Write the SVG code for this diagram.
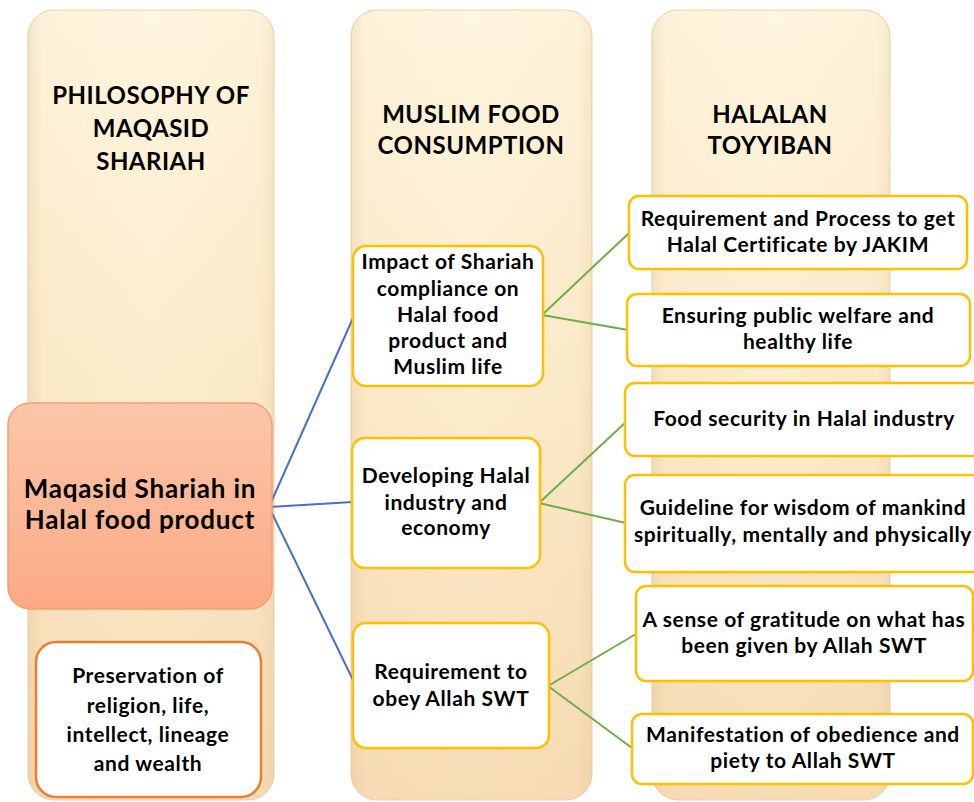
<svg xmlns="http://www.w3.org/2000/svg" width="974" height="802" viewBox="0 0 974 802">
<defs>
<linearGradient id="colV" x1="0" y1="0" x2="0" y2="1">
<stop offset="0" stop-color="#FFF6DF"/>
<stop offset="0.5" stop-color="#FCEBCB"/>
<stop offset="1" stop-color="#F7DDB6"/>
</linearGradient>
<linearGradient id="colH" x1="0" y1="0" x2="1" y2="0">
<stop offset="0" stop-color="#C89A5A" stop-opacity="0.18"/>
<stop offset="0.06" stop-color="#C89A5A" stop-opacity="0.04"/>
<stop offset="0.5" stop-color="#C89A5A" stop-opacity="0"/>
<stop offset="0.94" stop-color="#C89A5A" stop-opacity="0.04"/>
<stop offset="1" stop-color="#C89A5A" stop-opacity="0.15"/>
</linearGradient>
<linearGradient id="orangeG" x1="0" y1="0" x2="0" y2="1">
<stop offset="0" stop-color="#FCC6AA"/>
<stop offset="1" stop-color="#FBAA84"/>
</linearGradient>
</defs>
<style>
.col{fill:url(#colV);stroke:#E9D2AE;stroke-width:1}
.colS{fill:url(#colH);stroke:none}
.box{fill:#FFFFFF;stroke:#FFC000;stroke-width:2.5}
.obox{fill:#FFFFFF;stroke:#ED7D31;stroke-width:2.5}
.main{fill:url(#orangeG);stroke:#F4A06A;stroke-width:1.5}
text{font-family:Lato,"Liberation Sans",Arial,sans-serif;font-weight:bold;fill:#000000;text-anchor:middle}
.t{font-size:21px;letter-spacing:0.6px}
.h{font-size:24px;letter-spacing:0.5px}
.m{font-size:26px;letter-spacing:0.8px}
.blue{stroke:#4472C4;stroke-width:2;fill:none}
.green{stroke:#70AD47;stroke-width:2;fill:none}
</style>

<g id="col-philosophy">
<rect class="col" x="28" y="10" width="246" height="790" rx="26"/>
<rect class="colS" x="28" y="10" width="246" height="790" rx="26"/>
<text class="h" x="151" y="104">PHILOSOPHY OF</text>
<text class="h" x="151" y="137">MAQASID</text>
<text class="h" x="151" y="170">SHARIAH</text>
</g>
<g id="col-consumption">
<rect class="col" x="351" y="10" width="241" height="790" rx="26"/>
<rect class="colS" x="351" y="10" width="241" height="790" rx="26"/>
<text class="h" x="471" y="123">MUSLIM FOOD</text>
<text class="h" x="471" y="154">CONSUMPTION</text>
</g>
<g id="col-halalan">
<rect class="col" x="652" y="10" width="238" height="790" rx="26"/>
<rect class="colS" x="652" y="10" width="238" height="790" rx="26"/>
<text class="h" x="770" y="123">HALALAN</text>
<text class="h" x="770" y="154">TOYYIBAN</text>
</g>

<g id="connectors">
<line class="blue" x1="269" y1="507" x2="353" y2="318"/>
<line class="blue" x1="269" y1="507" x2="353" y2="502"/>
<line class="blue" x1="269" y1="507" x2="353" y2="680"/>
<line class="green" x1="542" y1="315" x2="629" y2="233"/>
<line class="green" x1="542" y1="315" x2="628" y2="330"/>
<line class="green" x1="539" y1="503" x2="626" y2="422"/>
<line class="green" x1="539" y1="503" x2="626" y2="523"/>
<line class="green" x1="548" y1="686" x2="636" y2="634"/>
<line class="green" x1="548" y1="686" x2="632" y2="748"/>
</g>

<g id="node-maqasid">
<rect class="main" x="8" y="403" width="264" height="206" rx="22"/>
<text class="m" x="140" y="498">Maqasid Shariah in</text>
<text class="m" x="140" y="529">Halal food product</text>
</g>
<g id="node-preservation">
<rect class="obox" x="36" y="642" width="225" height="155" rx="20"/>
<text class="t" x="148" y="683">Preservation of</text>
<text class="t" x="148" y="713">religion, life,</text>
<text class="t" x="148" y="742">intellect, lineage</text>
<text class="t" x="148" y="771">and wealth</text>
</g>
<g id="node-impact">
<rect class="box" x="353" y="246" width="190" height="140" rx="13"/>
<text class="t" x="448" y="269">Impact of Shariah</text>
<text class="t" x="448" y="296">compliance on</text>
<text class="t" x="448" y="322">Halal food</text>
<text class="t" x="448" y="348">product and</text>
<text class="t" x="448" y="374">Muslim life</text>
</g>
<g id="node-developing">
<rect class="box" x="352" y="438" width="188" height="130" rx="13"/>
<text class="t" x="446" y="483">Developing Halal</text>
<text class="t" x="446" y="510">industry and</text>
<text class="t" x="446" y="535">economy</text>
</g>
<g id="node-requirement">
<rect class="box" x="353" y="623" width="196" height="125" rx="13"/>
<text class="t" x="451" y="679">Requirement to</text>
<text class="t" x="451" y="706">obey Allah SWT</text>
</g>
<g id="node-jakim">
<rect class="box" x="629" y="196" width="338" height="73" rx="10"/>
<text class="t" x="798" y="226">Requirement and Process to get</text>
<text class="t" x="798" y="252">Halal Certificate by JAKIM</text>
</g>
<g id="node-welfare">
<rect class="box" x="627" y="294" width="343" height="72" rx="10"/>
<text class="t" x="798" y="323">Ensuring public welfare and</text>
<text class="t" x="798" y="349">healthy life</text>
</g>
<g id="node-security">
<rect class="box" x="625" y="383" width="360" height="73" rx="10"/>
<text class="t" x="804" y="426">Food security in Halal industry</text>
</g>
<g id="node-guideline">
<rect class="box" x="625" y="475" width="360" height="97" rx="10"/>
<text class="t" x="803" y="515">Guideline for wisdom of mankind</text>
<text class="t" x="803" y="542">spiritually, mentally and physically</text>
</g>
<g id="node-gratitude">
<rect class="box" x="636" y="586" width="337" height="95" rx="10"/>
<text class="t" x="804" y="627">A sense of gratitude on what has</text>
<text class="t" x="804" y="653">been given by Allah SWT</text>
</g>
<g id="node-manifestation">
<rect class="box" x="632" y="714" width="341" height="70" rx="10"/>
<text class="t" x="803" y="742">Manifestation of obedience and</text>
<text class="t" x="803" y="768">piety to Allah SWT</text>
</g>
</svg>
